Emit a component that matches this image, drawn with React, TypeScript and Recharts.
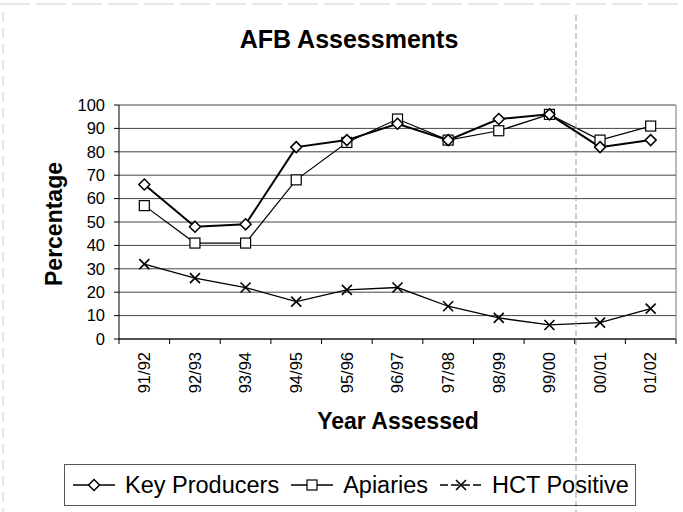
import { LineChart, Line, XAxis, YAxis, CartesianGrid } from "recharts";

const years = ["91/92", "92/93", "93/94", "94/95", "95/96", "96/97", "97/98", "98/99", "99/00", "00/01", "01/02"];
const keyProducers = [66, 48, 49, 82, 85, 92, 85, 94, 96, 82, 85];
const apiaries = [57, 41, 41, 68, 84, 94, 85, 89, 96, 85, 91];
const hctPositive = [32, 26, 22, 16, 21, 22, 14, 9, 6, 7, 13];
const yTicks = [0, 10, 20, 30, 40, 50, 60, 70, 80, 90, 100];

const data = years.map((year, i) => ({
  year,
  keyProducers: keyProducers[i],
  apiaries: apiaries[i],
  hctPositive: hctPositive[i],
}));

const FONT = '"Liberation Sans", Arial, sans-serif';
const W = 683;
const H = 512;
const BAND = 557 / years.length;

function DiamondDot(props: any) {
  const { cx, cy } = props;
  if (cx == null || cy == null) return null;
  const r = 5.5;
  return (
    <path
      d={`M${cx},${cy - r}L${cx + r},${cy}L${cx},${cy + r}L${cx - r},${cy}Z`}
      fill="#fff"
      stroke="#000"
      strokeWidth={1.5}
    />
  );
}

function SquareDot(props: any) {
  const { cx, cy } = props;
  if (cx == null || cy == null) return null;
  return <rect x={cx - 5} y={cy - 5} width={10} height={10} fill="#fff" stroke="#000" strokeWidth={1.2} />;
}

function CrossDot(props: any) {
  const { cx, cy } = props;
  if (cx == null || cy == null) return null;
  const r = 5;
  return (
    <path
      d={`M${cx - r},${cy - r}L${cx + r},${cy + r}M${cx - r},${cy + r}L${cx + r},${cy - r}`}
      stroke="#000"
      strokeWidth={1.6}
      fill="none"
    />
  );
}

function XTick(props: any) {
  const { x, y, payload, index } = props;
  const ty = y + 13;
  return (
    <g>
      <line x1={x - BAND / 2} x2={x - BAND / 2} y1={y} y2={y + 5} stroke="#000" />
      {index === years.length - 1 && (
        <line x1={x + BAND / 2} x2={x + BAND / 2} y1={y} y2={y + 5} stroke="#000" />
      )}
      <text
        x={x}
        y={ty}
        dy="0.35em"
        textAnchor="end"
        transform={`rotate(-90, ${x}, ${ty})`}
        fontSize={16.5}
        fontFamily={FONT}
        fill="#000"
      >
        {payload.value}
      </text>
    </g>
  );
}

function LegendIcon({ kind }: { kind: string }) {
  const dash = kind === "x" ? "8 3" : undefined;
  return (
    <svg width={46} height={20} style={{ marginRight: 8 }}>
      <line x1={2} x2={44} y1={10} y2={10} stroke="#000" strokeWidth={1.3} strokeDasharray={dash} />
      {kind === "diamond" && <DiamondDot cx={23} cy={10} />}
      {kind === "square" && <SquareDot cx={23} cy={10} />}
      {kind === "x" && <CrossDot cx={23} cy={10} />}
    </svg>
  );
}

const legendItems = [
  { label: "Key Producers", kind: "diamond" },
  { label: "Apiaries", kind: "square" },
  { label: "HCT Positive", kind: "x" },
];

export default function App() {
  return (
    <div style={{ position: "absolute", left: 0, top: 0, width: W, height: H, background: "#fff", fontFamily: FONT }}>
      <LineChart width={W} height={H} data={data} margin={{ top: 105, right: 7, bottom: 112, left: 59 }}>
        <CartesianGrid vertical={false} stroke="#444" />
        <XAxis
          dataKey="year"
          scale="band"
          height={61}
          tickLine={false}
          tickSize={0}
          tickMargin={0}
          interval={0}
          axisLine={{ stroke: "#000" }}
          tick={<XTick />}
        />
        <YAxis
          domain={[0, 100]}
          ticks={yTicks}
          width={60}
          tickSize={5}
          tickMargin={9}
          axisLine={{ stroke: "#000" }}
          tickLine={{ stroke: "#000" }}
          tick={{ fontSize: 16.5, fill: "#000", fontFamily: FONT }}
          interval={0}
        />
        <Line dataKey="hctPositive" stroke="#000" strokeWidth={1.3} dot={<CrossDot />} isAnimationActive={false} />
        <Line dataKey="apiaries" stroke="#000" strokeWidth={1.2} dot={<SquareDot />} isAnimationActive={false} />
        <Line dataKey="keyProducers" stroke="#000" strokeWidth={2} dot={<DiamondDot />} isAnimationActive={false} />
      </LineChart>

      <svg width={W} height={H} style={{ position: "absolute", left: 0, top: 0, pointerEvents: "none" }}>
        <line x1={676} x2={676} y1={105} y2={339} stroke="#777" />
        <line x1={576} x2={576} y1={15} y2={H} stroke="#999" strokeDasharray="6 3" />
        <line x1={0} x2={W} y1={4} y2={4} stroke="#ccc" strokeDasharray="30 6" />
        <line x1={3} x2={3} y1={12} y2={H} stroke="#ccc" strokeDasharray="10 6" />
        <text x={349} y={48} textAnchor="middle" fontSize={25} fontWeight="bold" fontFamily={FONT} fill="#000">
          AFB Assessments
        </text>
        <text x={398} y={429} textAnchor="middle" fontSize={23} fontWeight="bold" fontFamily={FONT} fill="#000">
          Year Assessed
        </text>
        <text
          x={62}
          y={224}
          textAnchor="middle"
          transform="rotate(-90, 62, 224)"
          fontSize={23}
          fontWeight="bold"
          fontFamily={FONT}
          fill="#000"
        >
          Percentage
        </text>
      </svg>

      <div
        style={{
          position: "absolute",
          left: 64,
          top: 464,
          width: 572,
          height: 42,
          boxSizing: "border-box",
          border: "1px solid #555",
          display: "flex",
          alignItems: "center",
          paddingLeft: 6,
          fontSize: 23.5,
          whiteSpace: "nowrap",
        }}
      >
        {legendItems.map((item) => (
          <div key={item.label} style={{ display: "flex", alignItems: "center", marginRight: 10 }}>
            <LegendIcon kind={item.kind} />
            <span>{item.label}</span>
          </div>
        ))}
      </div>
    </div>
  );
}
